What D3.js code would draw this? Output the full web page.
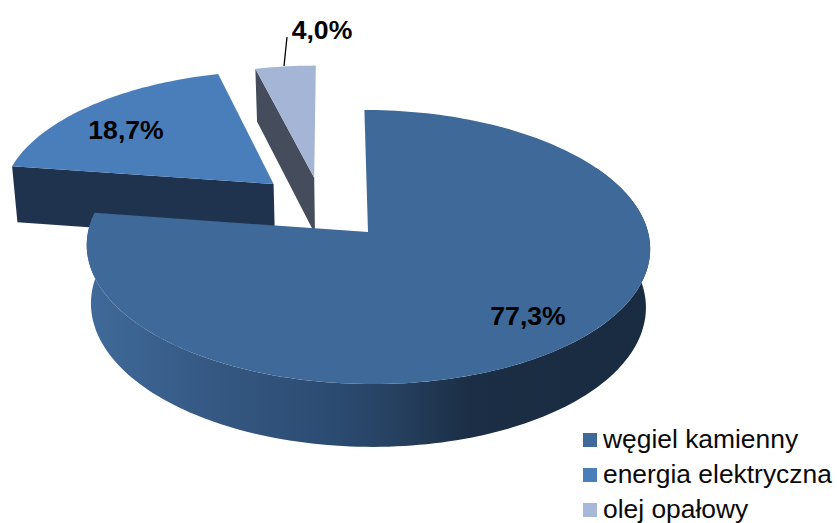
<!DOCTYPE html>
<html>
<head>
<meta charset="utf-8">
<script src="https://cdn.jsdelivr.net/npm/d3@7"></script>
<style>
html, body { margin: 0; padding: 0; background: #fff; }
svg { display: block; }
text { font-family: "Liberation Sans", Arial, sans-serif; fill: #000; }
.label { font-size: 26.6px; font-weight: bold; text-anchor: middle; }
.legend-text { font-size: 26.4px; fill: #0a0a0a; }
</style>
</head>
<body>
<svg id="chart" width="837" height="523"></svg>
<script>
const categories = ['węgiel kamienny', 'energia elektryczna', 'olej opałowy'];
const values = [77.3, 18.7, 4.0];
const valueLabels = ['77,3%', '18,7%', '4,0%'];
const topColors = ['#3e6999', '#4a7ebb', '#a5b5d6'];
const legendColors = ['#3e6999', '#4a7ebb', '#a7b8d8'];
// how far each slice is pulled out of the pie, in pie radii
const explodeU = [0, -0.3456, -0.195];
const explodeV = [0, -0.369, -0.42];
const labelX = [528, 126, 322];
const labelY = [325, 139, 39];

const width = 837, height = 523;
const perspective = 0.1095, depth = 58, shrink = 0.015, skew = 4;

const svg = d3.select('#chart').attr('width', width).attr('height', height);

const xScale = d3.scaleLinear().domain([-1, 1]).range([368 - 280, 368 + 280]);
const yScale = d3.scaleLinear().domain([-1, 1]).range([232 - 135.4, 232 + 135.4]);

// unit circle coordinates -> screen, z=0 top face, z=1 bottom face
function project(u, v, z) {
    const s = 1 / (1 - perspective * v);
    const b = s * (1 - shrink * z);
    return [xScale(u * b) + skew * v * b, yScale(v * b) + depth * s * z];
}

const slices = d3.pie().sort(null).value(d => d)(values);

function rim(d, i, a0, a1, z) {
    const n = Math.max(2, Math.ceil(Math.abs(a1 - a0) * 40));
    return d3.range(n + 1).map(k => {
        const a = a0 + (a1 - a0) * k / n;
        return project(Math.sin(a) + explodeU[i], -Math.cos(a) + explodeV[i], z);
    });
}
function apex(i, z) {
    return project(explodeU[i], explodeV[i], z);
}

const line = d3.line();
const closed = pts => line(pts) + 'Z';

const defs = svg.append('defs');
const grad = defs.append('linearGradient')
    .attr('id', 'wall')
    .attr('gradientUnits', 'userSpaceOnUse')
    .attr('x1', xScale(-1)).attr('x2', xScale(1))
    .attr('y1', 0).attr('y2', 0);
grad.selectAll('stop')
    .data([[0, '#406a9a'], [0.2, '#365a85'], [0.45, '#2b4a70'], [0.55, '#26405f'], [0.68, '#1b2e45'], [1, '#192b40']])
    .join('stop')
    .attr('offset', d => d[0])
    .attr('stop-color', d => d[1]);

// back slices first, the big one goes on top
const second = slices[1], third = slices[2], main = slices[0];

svg.append('path')
    .attr('d', closed([
        project(Math.sin(second.startAngle) + explodeU[1], -Math.cos(second.startAngle) + explodeV[1], 0),
        apex(1, 0), apex(1, 1),
        project(Math.sin(second.startAngle) + explodeU[1], -Math.cos(second.startAngle) + explodeV[1], 1)
    ]))
    .attr('fill', '#1f334e');

svg.append('path')
    .attr('d', closed([
        project(Math.sin(third.startAngle) + explodeU[2], -Math.cos(third.startAngle) + explodeV[2], 0),
        apex(2, 0), apex(2, 1),
        project(Math.sin(third.startAngle) + explodeU[2], -Math.cos(third.startAngle) + explodeV[2], 1)
    ]))
    .attr('fill', '#454c5c');

[second, third].forEach(d => {
    const i = d.index;
    svg.append('path')
        .attr('d', closed([apex(i, 0)].concat(rim(d, i, d.startAngle, d.endAngle, 0))))
        .attr('fill', topColors[i]);
});

// outer wall of the big slice, the top face hides what should not show
const wallStart = Math.PI / 3;
const wallTop = rim(main, 0, wallStart, main.endAngle, 0);
const wallBottom = rim(main, 0, wallStart, main.endAngle, 1).reverse();
svg.append('path')
    .attr('d', closed(wallTop.concat(wallBottom)))
    .attr('fill', 'url(#wall)');

svg.append('path')
    .attr('d', closed([apex(0, 0)].concat(rim(main, 0, main.startAngle, main.endAngle, 0))))
    .attr('fill', topColors[0]);

// leader line of the small slice
const leaderTop = [287, 37], leaderBottom = [284, 66];
svg.append('path')
    .attr('d', line([leaderTop, leaderBottom]))
    .attr('stroke', '#000')
    .attr('stroke-width', 1.3)
    .attr('fill', 'none');

svg.selectAll('text.label')
    .data(valueLabels)
    .join('text')
    .attr('class', 'label')
    .attr('x', (d, i) => labelX[i])
    .attr('y', (d, i) => labelY[i])
    .text(d => d);

const legendY = d3.scalePoint().domain(categories).range([440, 510]);
const legend = svg.selectAll('g.legend')
    .data(categories)
    .join('g')
    .attr('class', 'legend')
    .attr('transform', d => `translate(583,${legendY(d)})`);
legend.append('rect')
    .attr('x', 0).attr('y', -7)
    .attr('width', 14).attr('height', 14)
    .attr('fill', (d, i) => legendColors[i]);
legend.append('text')
    .attr('class', 'legend-text')
    .attr('x', 20)
    .attr('y', 7.5)
    .text(d => d);
</script>
</body>
</html>
